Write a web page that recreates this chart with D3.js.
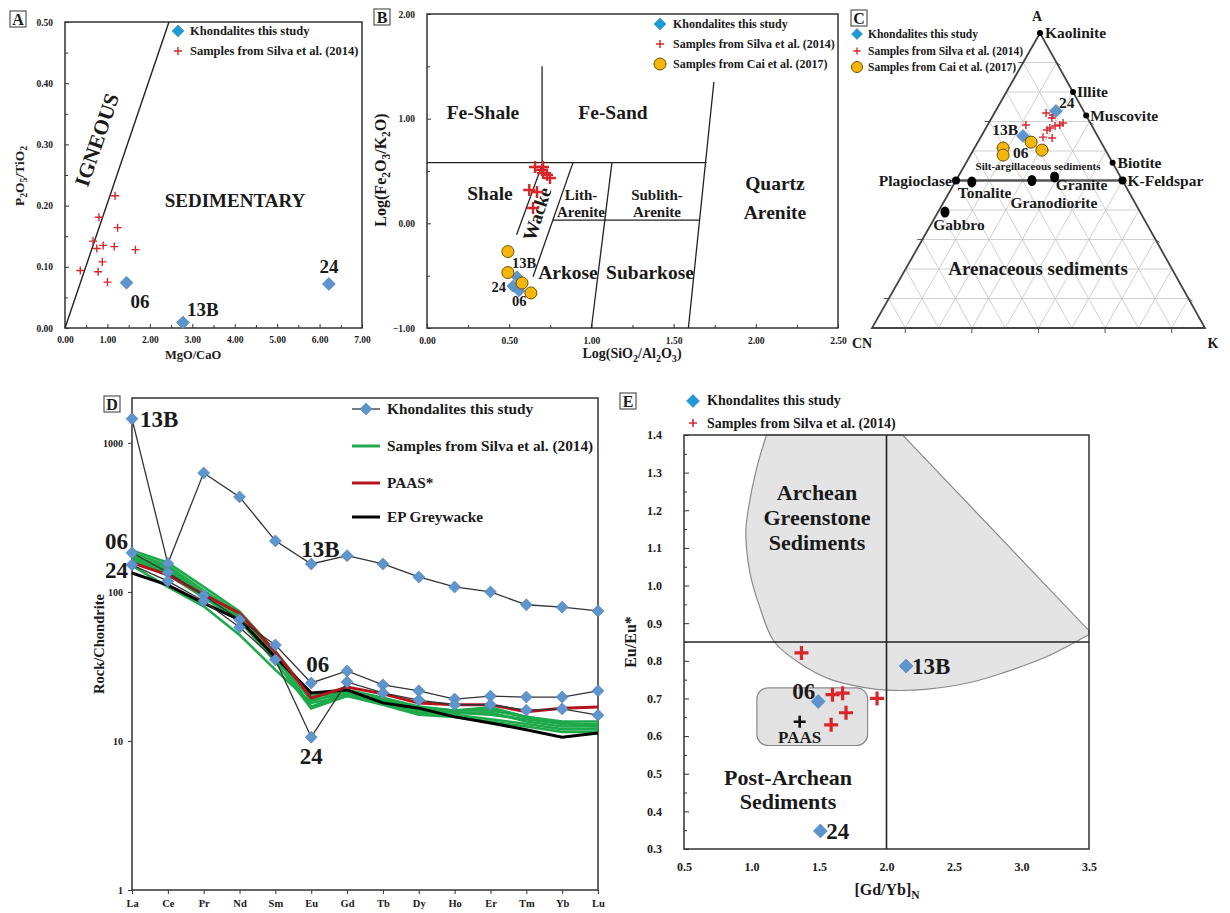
<!DOCTYPE html>
<html><head><meta charset="utf-8">
<script src="https://cdn.jsdelivr.net/npm/d3@7/dist/d3.min.js"></script>
<style>
body{margin:0;background:#fff;}
svg text{font-family:"Liberation Serif","Times New Roman",serif;font-weight:bold;fill:#1a1a1a;}
</style></head><body>
<script>
// ================= DATA =================
// Panel A : P2O5/TiO2 vs MgO/CaO
const aKhondLabels = ["06","13B","24"];
const aKhondMgOCaO = [1.45, 2.78, 6.22];
const aKhondP2O5TiO2 = [0.074, 0.009, 0.072];
const aSilvaMgOCaO = [0.36,0.66,0.75,0.80,0.90,0.88,0.78,1.00,1.18,1.16,1.24,1.66];
const aSilvaP2O5TiO2 = [0.094,0.142,0.130,0.181,0.135,0.108,0.092,0.075,0.216,0.133,0.164,0.128];
const aXTicks = [0,1,2,3,4,5,6,7];
const aXMinor = [0.5,1.5,2.5,3.5,4.5,5.5,6.5];
const aYTicks = [0,0.1,0.2,0.3,0.4,0.5];
const aYMinor = [0.05,0.15,0.25,0.35,0.45];
const aIgneousLine = [[0,0],[2.45,0.5]];

// Panel B : Herron (1988) diagram
const bKhondLabels = ["13B","24","06"];
const bKhondLogSiAl = [0.547,0.523,0.56];
const bKhondLogFeK = [-0.51,-0.60,-0.645];
const bSilvaLogSiAl = [0.657,0.706,0.700,0.730,0.706,0.748,0.622,0.669,0.645];
const bSilvaLogFeK = [0.538,0.538,0.510,0.463,0.480,0.433,0.318,0.300,0.146];
const bCaiLogSiAl = [0.492,0.492,0.578,0.632];
const bCaiLogFeK = [-0.27,-0.47,-0.57,-0.665];
const bXTicks = [0,0.5,1,1.5,2,2.5];
const bXMinor = [0.25,0.75,1.25,1.75,2.25];
const bYTicks = [-1,0,1,2];
const bYMinor = [-0.5,0.5,1.5];
const bFieldLines = [
  [[0,0.58],[1.70,0.58]],
  [[0.70,0.58],[0.70,1.50]],
  [[1.59,-1],[1.745,1.35]],
  [[0.545,-0.11],[0.705,0.58]],
  [[0.645,-0.51],[0.888,0.58]],
  [[0.766,0.03],[1.66,0.03]],
  [[1.0,-1],[1.125,0.58]]
];

// Panel C : A-CN-K ternary (percent A, percent K)
const cKhondLabels = ["24","13B","06"];
const cKhondA = [73.6,65.1,61.0];
const cKhondK = [18.1,12.5,8.6];
const cSilvaA = [72.9,71.2,72.2,68.8,67.1,67.8,68.5,68.8,69.5,64.7,64.4,60.3];
const cSilvaK = [15.5,18.1,17.9,11.5,18.7,19.2,20.4,21.7,22.3,18.7,21.6,21.5];
const cCaiA = [61.0,58.6,63.0,60.3];
const cCaiK = [8.6,9.8,16.0,20.6];
const cMineralNames = ["Kaolinite","Illite","Muscovite","Biotite","K-Feldspar","Plagioclase"];
const cMineralA = [100,80,72,56,50,50];
const cMineralK = [0,20,28,44,50,0];
const cRockNames = ["Tonalite","Granodiorite","Granite","Gabbro"];
const cRockA = [49.5,50.0,51.2,39.3];
const cRockK = [5.0,22.8,29.0,2.1];

// Panel D : chondrite-normalised REE
const dElements = ["La","Ce","Pr","Nd","Sm","Eu","Gd","Tb","Dy","Ho","Er","Tm","Yb","Lu"];
const dKhond13B = [1449,155,629,434,220,154,175,154,126,108,100,82,79,74.5];
const dKhond06  = [183,135,95,65,44,24.5,29.5,23.8,21.7,19.1,20,19.7,19.7,21.7];
const dKhond24  = [152,118,87,58,35,10.6,24.9,21,18.8,17.5,17.5,16.1,16.4,14.9];
const dPAAS     = [157,130,96,72,39.6,19.4,23,20.7,18,17.5,17.5,15.7,16.6,16.9];
const dEPGreywacke = [134,111,84,65,36.6,21,22,18,16.6,14.5,13.2,11.9,10.6,11.3];
const dSilva1 = [190,157,108,74,40,20,22,19.5,17,16,16,14.5,13.5,13.5];
const dSilva2 = [183,150,102,71,38,18.5,21.5,19,16.5,15.5,15,14,13,13];
const dSilva3 = [175,145,97,68,37,17,21,18.5,16,15.5,15.5,13.5,12.5,12.5];
const dSilva4 = [170,140,98,66,36,19,20.5,18.5,16.5,16,16.5,14.5,13,12.5];
const dSilva5 = [160,130,92,64,34,16.5,20,18,15.5,15,14,13,12,12];
const dSilva6 = [150,108,80,51.5,30,18,20,17.5,15,14.5,13.5,12.5,11.5,11.5];
const dSilva7 = [165,135,96,67,35,20,21,18.7,16.5,16,16.8,14.5,13.2,12.8];
const dYTicks = [1,10,100,1000];

// Panel E : Eu/Eu* vs [Gd/Yb]N
const eKhondLabels = ["13B","06","24"];
const eKhondGdYb = [2.145,1.494,1.51];
const eKhondEu = [0.786,0.692,0.348];
const eSilvaGdYb = [1.37,1.60,1.675,1.70,1.59,1.93];
const eSilvaEu = [0.821,0.71,0.714,0.662,0.63,0.70];
const ePAASGdYb = [1.357];
const ePAASEu = [0.638];
const eXTicks = [0.5,1.0,1.5,2.0,2.5,3.0,3.5];
const eYTicks = [0.3,0.4,0.5,0.6,0.7,0.8,0.9,1.0,1.1,1.2,1.3,1.4];
const eYMinor = [0.35,0.45,0.55,0.65,0.75,0.85,0.95,1.05,1.15,1.25,1.35];
const eArcheanTop = [[1.111,1.4],[2.12,1.4],[3.5,0.88]];
const eArcheanCurve = [[3.5,0.87],[3.18,0.81],[2.88,0.77],[2.65,0.745],[2.29,0.724],[2.0,0.722],[1.85,0.728],[1.59,0.75],[1.36,0.793],[1.17,0.85],[1.06,0.944],[0.988,1.035],[0.958,1.14],[0.975,1.2],[1.037,1.31],[1.111,1.4]];
const ePAASBox = [[1.04,0.575],[1.86,0.728]];

// ================= HELPERS =================
const BLUE="#5d95cc", BLUE_L="#1d9bd7", RED="#d8262b", YEL="#f5b60c", GREEN="#1eaa4b", DRED="#b5141c";
const svg=d3.select("body").append("svg").attr("width",1230).attr("height",913);

function txt(g,x,y,s,size,anchor){return g.append("text").attr("x",x).attr("y",y).attr("font-size",size).attr("text-anchor",anchor||"start").text(s);}
function diamond(g,x,y,r,fill){g.append("path").attr("d",`M${x},${y-r}L${x+r},${y}L${x},${y+r}L${x-r},${y}Z`).attr("fill",fill).attr("stroke","#4a7fb5").attr("stroke-width",0.6);}
function plus(g,x,y,r,w,color){g.append("path").attr("d",`M${x-r},${y}H${x+r}M${x},${y-r}V${y+r}`).attr("stroke",color).attr("stroke-width",w).attr("fill","none");}
function circ(g,x,y,r){g.append("circle").attr("cx",x).attr("cy",y).attr("r",r).attr("fill",YEL).attr("stroke","#6e5200").attr("stroke-width",1);}
function tag(x,y,t){const g=svg.append("g");g.append("rect").attr("x",x).attr("y",y).attr("width",16).attr("height",16).attr("fill","#fff").attr("stroke","#555").attr("stroke-width",1.2);txt(g,x+8,y+13.5,t,16,"middle");}
function styleAxis(sel,fs){sel.select(".domain").remove();sel.selectAll(".tick line").attr("stroke","#333").attr("stroke-width",1);sel.selectAll(".tick text").attr("font-size",fs).attr("fill","#222");}
function frame(g,x,y){const[x0,x1]=x.range(),[y0,y1]=y.range();g.append("rect").attr("x",Math.min(x0,x1)).attr("y",Math.min(y0,y1)).attr("width",Math.abs(x1-x0)).attr("height",Math.abs(y1-y0)).attr("fill","none").attr("stroke","#333").attr("stroke-width",1.5);}
// text with subscript parts: [text, isSub]
function subText(g,x,y,parts,size,rot){
  const t=g.append("text").attr("font-size",size).attr("text-anchor","middle")
    .attr("transform",`translate(${x},${y})`+(rot?` rotate(${rot})`:""));
  let prevSub=false;
  parts.forEach(p=>{
    const s=t.append("tspan").text(p[0]);
    const isSub=!!p[1];
    if(isSub){s.attr("font-size",size*0.72);}
    if(isSub&&!prevSub)s.attr("dy",size*0.25);
    if(!isSub&&prevSub)s.attr("dy",-size*0.25);
    prevSub=isSub;
  });
  return t;
}

// ================= PANEL A =================
{
const g=svg.append("g");
const x=d3.scaleLinear().domain([0,7]).range([65,362]);
const y=d3.scaleLinear().domain([0,0.5]).range([328,22]);
g.append("g").attr("transform","translate(0,328)").call(d3.axisBottom(x).tickValues(aXTicks).tickFormat(d3.format(".2f")).tickSize(-4).tickPadding(8)).call(styleAxis,9.5);
g.append("g").attr("transform","translate(0,328)").call(d3.axisBottom(x).tickValues(aXMinor).tickFormat("").tickSize(-3)).call(styleAxis,9);
g.append("g").attr("transform","translate(65,0)").call(d3.axisLeft(y).tickValues(aYTicks).tickFormat(d3.format(".2f")).tickSize(-4).tickPadding(12)).call(styleAxis,9.5);
g.append("g").attr("transform","translate(65,0)").call(d3.axisLeft(y).tickValues(aYMinor).tickFormat("").tickSize(-3)).call(styleAxis,9);
frame(g,x,y);
g.append("line").attr("x1",x(aIgneousLine[0][0])).attr("y1",y(aIgneousLine[0][1])).attr("x2",x(aIgneousLine[1][0])).attr("y2",y(aIgneousLine[1][1])).attr("stroke","#222").attr("stroke-width",1.4);
g.append("text").attr("transform","translate(97,140) rotate(-71)").attr("font-size",21).attr("text-anchor","middle").attr("dominant-baseline","central").text("IGNEOUS");
txt(g,235,207,"SEDIMENTARY",19,"middle");
aSilvaMgOCaO.forEach((v,i)=>plus(g,x(v),y(aSilvaP2O5TiO2[i]),4,1.4,RED));
aKhondMgOCaO.forEach((v,i)=>diamond(g,x(v),y(aKhondP2O5TiO2[i]),6.5,BLUE));
const lx=[x(aKhondMgOCaO[0])+4,x(aKhondMgOCaO[1])+4,x(aKhondMgOCaO[2])];
const ly=[y(aKhondP2O5TiO2[0])+25,y(aKhondP2O5TiO2[1])-6,y(aKhondP2O5TiO2[2])-11];
const la=["start","start","middle"];
aKhondLabels.forEach((s,i)=>txt(g,lx[i],ly[i],s,19,la[i]));
diamond(g,178,31,6,BLUE_L); txt(g,190,35,"Khondalites this study",12.5);
plus(g,178,51,4,1.4,RED); txt(g,190,55,"Samples from Silva et al. (2014)",12.5);
subText(g,24,176,[["P"],["2",1],["O"],["5",1],["/TiO"],["2",1]],13.5,-90);
txt(g,193,359,"MgO/CaO",12.5,"middle");
}
tag(10,11,"A");

// ================= PANEL B =================
{
const g=svg.append("g");
const x=d3.scaleLinear().domain([0,2.5]).range([427,838]);
const y=d3.scaleLinear().domain([-1,2]).range([328,14]);
g.append("g").attr("transform","translate(0,328)").call(d3.axisBottom(x).tickValues(bXTicks).tickFormat(d3.format(".2f")).tickSize(-4).tickPadding(9)).call(styleAxis,9.5);
g.append("g").attr("transform","translate(0,328)").call(d3.axisBottom(x).tickValues(bXMinor).tickFormat("").tickSize(-3)).call(styleAxis,9);
g.append("g").attr("transform","translate(427,0)").call(d3.axisLeft(y).tickValues(bYTicks).tickFormat(d3.format(".2f")).tickSize(-4).tickPadding(12)).call(styleAxis,9.5);
g.append("g").attr("transform","translate(427,0)").call(d3.axisLeft(y).tickValues(bYMinor).tickFormat("").tickSize(-3)).call(styleAxis,9);
frame(g,x,y);
bFieldLines.forEach(l=>g.append("line").attr("x1",x(l[0][0])).attr("y1",y(l[0][1])).attr("x2",x(l[1][0])).attr("y2",y(l[1][1])).attr("stroke","#222").attr("stroke-width",1.3));
txt(g,483,119,"Fe-Shale",19.5,"middle");
txt(g,613,119,"Fe-Sand",19.5,"middle");
txt(g,490,200,"Shale",19.5,"middle");
g.append("text").attr("transform","translate(537,214) rotate(-72)").attr("font-size",19).attr("text-anchor","middle").attr("dominant-baseline","central").text("Wacke");
txt(g,581,200,"Lith-",15,"middle");
txt(g,581,217,"Arenite",15,"middle");
txt(g,657,200,"Sublith-",15,"middle");
txt(g,657,217,"Arenite",15,"middle");
txt(g,775,190,"Quartz",19.5,"middle");
txt(g,775,219,"Arenite",19.5,"middle");
txt(g,568,279,"Arkose",19.5,"middle");
txt(g,650,279,"Subarkose",19.5,"middle");
bSilvaLogSiAl.forEach((v,i)=>plus(g,x(v),y(bSilvaLogFeK[i]),6,2.4,RED));
bKhondLogSiAl.forEach((v,i)=>diamond(g,x(v),y(bKhondLogFeK[i]),6,BLUE));
bCaiLogSiAl.forEach((v,i)=>circ(g,x(v),y(bCaiLogFeK[i]),6));
const ox=[-5,-7,-7], oy=[-9,6,15], an=["start","end","start"];
bKhondLabels.forEach((s,i)=>txt(g,x(bKhondLogSiAl[i])+ox[i],y(bKhondLogFeK[i])+oy[i],s,14.5,an[i]));
diamond(g,660,24,6,BLUE_L); txt(g,673,28,"Khondalites this study",12);
plus(g,660,44,4,1.4,RED); txt(g,673,48,"Samples from Silva et al. (2014)",12);
circ(g,660,64,6); txt(g,673,68,"Samples from Cai et al. (2017)",12);
subText(g,386,170,[["Log(Fe"],["2",1],["O"],["3",1],["/K"],["2",1],["O)"]],16,-90);
subText(g,632,358,[["Log(SiO"],["2",1],["/Al"],["2",1],["O"],["3",1],[")"]],14,0);
}
tag(374,9,"B");

// ================= PANEL C =================
{
const g=svg.append("g");
const VA=[1040,33], VCN=[872,328], VK=[1205,328];
const tern=(a,k)=>{a/=100;k/=100;const c=1-a-k;return [a*VA[0]+c*VCN[0]+k*VK[0], a*VA[1]+c*VCN[1]+k*VK[1]];};
const grid=[10,20,30,40,50,60,70,80,90];
grid.forEach(v=>{
  const seg=[[tern(v,0),tern(v,100-v)],[tern(0,v),tern(100-v,v)],[tern(0,100-v),tern(100-v,0)]];
  seg.forEach(s=>g.append("line").attr("x1",s[0][0]).attr("y1",s[0][1]).attr("x2",s[1][0]).attr("y2",s[1][1]).attr("stroke","#c4c4c4").attr("stroke-width",0.8));
});
[10,30,50,70,90].forEach(v=>{
  const b=tern(0,v); g.append("line").attr("x1",b[0]).attr("y1",b[1]).attr("x2",b[0]).attr("y2",b[1]+5).attr("stroke","#555");
  const l=tern(v,0); g.append("line").attr("x1",l[0]).attr("y1",l[1]).attr("x2",l[0]-5).attr("y2",l[1]).attr("stroke","#555");
  const r=tern(v,100-v); g.append("line").attr("x1",r[0]).attr("y1",r[1]).attr("x2",r[0]+4).attr("y2",r[1]+3).attr("stroke","#555");
});
g.append("path").attr("d",`M${VA}L${VCN}L${VK}Z`).attr("fill","none").attr("stroke","#444").attr("stroke-width",1.8);
const p1=tern(cMineralA[5],cMineralK[5]), p2=tern(cMineralA[4],cMineralK[4]);
g.append("line").attr("x1",p1[0]).attr("y1",p1[1]).attr("x2",p2[0]).attr("y2",p2[1]).attr("stroke","#555").attr("stroke-width",2.5);
cMineralA.forEach((a,i)=>{const p=tern(a,cMineralK[i]);g.append("circle").attr("cx",p[0]).attr("cy",p[1]).attr("r",i>=4?4:3).attr("fill","#000");});
cRockA.forEach((a,i)=>{const p=tern(a,cRockK[i]);g.append("ellipse").attr("cx",p[0]).attr("cy",p[1]).attr("rx",4.5).attr("ry",5.5).attr("fill","#000");});
const mp=cMineralA.map((a,i)=>tern(a,cMineralK[i]));
const F=15.5;
txt(g,mp[0][0]+5,mp[0][1]+5,"Kaolinite",F);
txt(g,mp[1][0]+4,mp[1][1]+5,"Illite",F);
txt(g,mp[2][0]+4,mp[2][1]+5,"Muscovite",F);
txt(g,mp[3][0]+5,mp[3][1]+5,"Biotite",F);
txt(g,mp[4][0]+5,mp[4][1]+5,"K-Feldspar",F);
txt(g,mp[5][0]-4,mp[5][1]+5,"Plagioclase",F,"end");
const rp=cRockA.map((a,i)=>tern(a,cRockK[i]));
txt(g,rp[0][0]-14,rp[0][1]+16,"Tonalite",F);
txt(g,rp[1][0]+22,rp[1][1]+27,"Granodiorite",F,"middle");
txt(g,rp[2][0]+27,rp[2][1]+13,"Granite",F,"middle");
txt(g,rp[3][0]+14,rp[3][1]+18,"Gabbro",F,"middle");
txt(g,1038,170,"Silt-argillaceous sediments",11,"middle");
txt(g,1038,275,"Arenaceous sediments",19,"middle");
cSilvaA.forEach((a,i)=>{const p=tern(a,cSilvaK[i]);plus(g,p[0],p[1],4,1.4,RED);});
cKhondA.forEach((a,i)=>{const p=tern(a,cKhondK[i]);diamond(g,p[0],p[1],6.5,BLUE);});
cCaiA.forEach((a,i)=>{const p=tern(a,cCaiK[i]);circ(g,p[0],p[1],6);});
const kp=cKhondA.map((a,i)=>tern(a,cKhondK[i]));
txt(g,kp[0][0]+3,kp[0][1]-3,cKhondLabels[0],F);
txt(g,kp[1][0]-5,kp[1][1]-1,cKhondLabels[1],F,"end");
txt(g,kp[2][0]+10,kp[2][1]+10,cKhondLabels[2],F);
txt(g,1037,21,"A",14,"middle");
txt(g,862,348,"CN",14,"middle");
txt(g,1213,348,"K",14,"middle");
diamond(g,857,34,5.5,BLUE_L); txt(g,868,38,"Khondalites this study",11.5);
plus(g,857,51,3.5,1.3,RED); txt(g,868,55,"Samples from Silva et al. (2014)",11.5);
circ(g,857,67,5.5); txt(g,868,71,"Samples from Cai et al. (2017)",11.5);
}
tag(851,10,"C");

// ================= PANEL D =================
{
const g=svg.append("g");
const x=d3.scalePoint().domain(dElements).range([132,598]);
const y=d3.scaleLog().domain([1,2000]).range([890,398]);
g.append("g").attr("transform","translate(0,890)").call(d3.axisBottom(x).tickSize(4).tickPadding(6)).call(styleAxis,10.5);
g.append("g").attr("transform","translate(132,0)").call(d3.axisLeft(y).tickValues(dYTicks).tickFormat(d3.format("d")).tickSize(4).tickPadding(5)).call(styleAxis,10);
g.append("rect").attr("x",132).attr("y",398).attr("width",466).attr("height",492).attr("fill","none").attr("stroke","#333").attr("stroke-width",1.5);
const line=d3.line().x((d,i)=>x(dElements[i])).y(d=>y(d));
[dSilva1,dSilva2,dSilva3,dSilva4,dSilva5,dSilva6,dSilva7].forEach(s=>g.append("path").attr("d",line(s)).attr("fill","none").attr("stroke",GREEN).attr("stroke-width",2.6));
g.append("path").attr("d",line(dEPGreywacke)).attr("fill","none").attr("stroke","#000").attr("stroke-width",3);
g.append("path").attr("d",line(dPAAS)).attr("fill","none").attr("stroke",DRED).attr("stroke-width",3);
[dKhond13B,dKhond06,dKhond24].forEach(s=>{
  g.append("path").attr("d",line(s)).attr("fill","none").attr("stroke","#333").attr("stroke-width",1.3);
  s.forEach((v,i)=>diamond(g,x(dElements[i]),y(v),6,BLUE));
});
const LF=23;
txt(g,x("La")+8,y(dKhond13B[0])+8,"13B",LF);
txt(g,x("La")-4,y(dKhond06[0])-4,"06",LF,"end");
txt(g,x("La")-4,y(dKhond24[0])+13,"24",LF,"end");
txt(g,x("Eu")-10,y(dKhond13B[5])-7,"13B",LF);
txt(g,x("Eu")-5,y(dKhond06[5])-11,"06",LF);
txt(g,x("Eu"),y(dKhond24[5])+27,"24",LF,"middle");
// legend
g.append("line").attr("x1",352).attr("x2",380).attr("y1",409).attr("y2",409).attr("stroke","#333").attr("stroke-width",1.3);
diamond(g,366,409,6,BLUE); txt(g,387,414,"Khondalites this study",15.3);
g.append("line").attr("x1",352).attr("x2",380).attr("y1",446).attr("y2",446).attr("stroke",GREEN).attr("stroke-width",3);
txt(g,387,451,"Samples from Silva et al. (2014)",15.3);
g.append("line").attr("x1",352).attr("x2",380).attr("y1",483).attr("y2",483).attr("stroke",DRED).attr("stroke-width",3);
txt(g,387,488,"PAAS*",15.3);
g.append("line").attr("x1",352).attr("x2",380).attr("y1",517).attr("y2",517).attr("stroke","#000").attr("stroke-width",3);
txt(g,387,522,"EP Greywacke",15.3);
g.append("text").attr("transform","translate(104,644) rotate(-90)").attr("font-size",14.5).attr("text-anchor","middle").text("Rock/Chondrite");
}
tag(104,396,"D");

// ================= PANEL E =================
{
const g=svg.append("g");
const x=d3.scaleLinear().domain([0.5,3.5]).range([684,1089]);
const y=d3.scaleLinear().domain([0.3,1.4]).range([849,435]);
const curve=d3.line().x(d=>x(d[0])).y(d=>y(d[1])).curve(d3.curveCatmullRom.alpha(0.5));
const top=eArcheanTop.map(d=>[x(d[0]),y(d[1])]);
const path=`M${top[0]}L${top[1]}L${top[2]}`+curve(eArcheanCurve).replace(/^M/,"L")+"Z";
g.append("path").attr("d",path).attr("fill","#e4e4e4").attr("stroke","#8a8a8a").attr("stroke-width",1.2);
g.append("rect").attr("x",x(ePAASBox[0][0])).attr("y",y(ePAASBox[1][1])).attr("width",x(ePAASBox[1][0])-x(ePAASBox[0][0])).attr("height",y(ePAASBox[0][1])-y(ePAASBox[1][1])).attr("rx",11).attr("fill","#e2e2e2").attr("stroke","#8a8a8a").attr("stroke-width",1.2);
g.append("line").attr("x1",x(2)).attr("x2",x(2)).attr("y1",y(0.3)).attr("y2",y(1.4)).attr("stroke","#222").attr("stroke-width",1.6);
g.append("line").attr("x1",x(0.5)).attr("x2",x(3.5)).attr("y1",y(0.85)).attr("y2",y(0.85)).attr("stroke","#222").attr("stroke-width",1.6);
g.append("g").attr("transform","translate(0,849)").call(d3.axisBottom(x).tickValues(eXTicks).tickFormat(d3.format(".1f")).tickSize(0).tickPadding(13)).call(styleAxis,12);
g.append("g").attr("transform","translate(684,0)").call(d3.axisLeft(y).tickValues(eYTicks).tickFormat(d3.format(".1f")).tickSize(-5).tickPadding(22)).call(styleAxis,12);
g.append("g").attr("transform","translate(684,0)").call(d3.axisLeft(y).tickValues(eYMinor).tickFormat("").tickSize(-3)).call(styleAxis,9);
frame(g,x,y);
const TF=22;
txt(g,817,500,"Archean",TF,"middle");
txt(g,817,525,"Greenstone",TF,"middle");
txt(g,817,550,"Sediments",TF,"middle");
txt(g,x(1.27),y(0.47),"Post-Archean",TF,"middle");
txt(g,x(1.27),y(0.405),"Sediments",TF,"middle");
eSilvaGdYb.forEach((v,i)=>plus(g,x(v),y(eSilvaEu[i]),7,3.2,RED));
ePAASGdYb.forEach((v,i)=>plus(g,x(v),y(ePAASEu[i]),6,2.6,"#111"));
txt(g,x(ePAASGdYb[0]),y(ePAASEu[0])+21,"PAAS",17,"middle");
eKhondGdYb.forEach((v,i)=>diamond(g,x(v),y(eKhondEu[i]),7,BLUE));
txt(g,x(eKhondGdYb[0])+6,y(eKhondEu[0])+8,eKhondLabels[0],23);
txt(g,x(eKhondGdYb[1])-3,y(eKhondEu[1])-2,eKhondLabels[1],23,"end");
txt(g,x(eKhondGdYb[2])+6,y(eKhondEu[2])+8,eKhondLabels[2],23);
diamond(g,693,401,6.5,BLUE_L); txt(g,707,405,"Khondalites this study",14);
plus(g,693,423,4,1.6,RED); txt(g,707,428,"Samples from Silva et al. (2014)",14);
g.append("text").attr("transform","translate(636,642) rotate(-90)").attr("font-size",16).attr("text-anchor","middle").text("Eu/Eu*");
subText(g,887,895,[["[Gd/Yb]"],["N",1]],16,0);
}
tag(620,393,"E");
</script></body></html>
